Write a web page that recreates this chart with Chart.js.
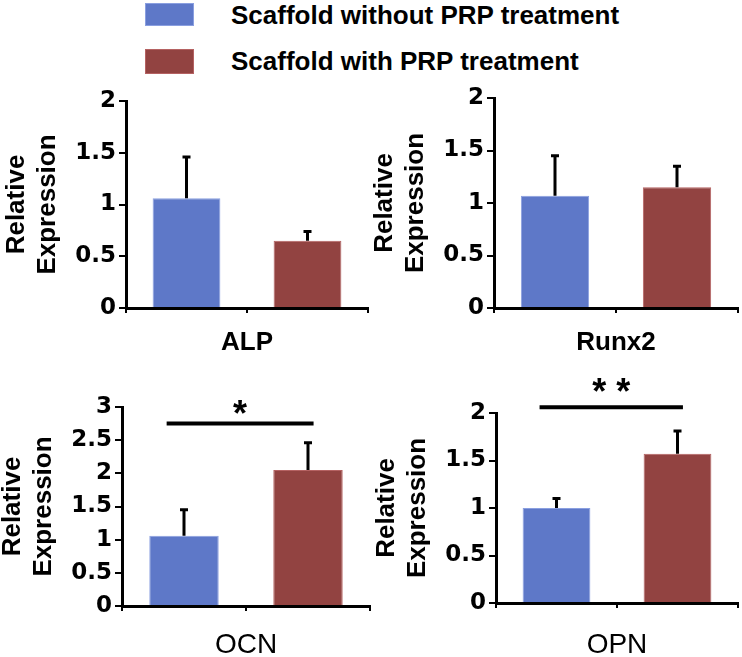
<!DOCTYPE html>
<html>
<head>
<meta charset="utf-8">
<script src="https://cdn.jsdelivr.net/npm/chart.js@4.4.1/dist/chart.umd.min.js"></script>
<style>
  body { margin: 0; width: 742px; height: 657px; overflow: hidden; background: #fff; position: relative;
         font-family: "Liberation Sans", Arial, sans-serif; }
  canvas { position: absolute; }
  .leg-box { position: absolute; left: 145px; width: 49px; }
  .leg-text { position: absolute; left: 231px; font-size: 26px; line-height: 26px; font-weight: bold; white-space: nowrap; color: #000; }
</style>
</head>
<body>
<div id="legend"></div>
<script>
// data
const genes = ["ALP", "Runx2", "OCN", "OPN"];
const seriesNames = ["Scaffold without PRP treatment", "Scaffold with PRP treatment"];
const seriesColors = ["#5E78C8", "#924341"];
const seriesBorders = ["#8A9FE0", "#B56262"];
const withoutPRP = [1.06, 1.07, 1.06, 1.00];
const withoutPRPErr = [0.40, 0.38, 0.39, 0.10];
const withPRP = [0.65, 1.15, 2.05, 1.57];
const withPRPErr = [0.09, 0.20, 0.41, 0.24];
const yMax = [2, 2, 3, 2];
const sigLabel = ["", "", "*", "* *"];
const sigLineY = [null, null, 2.75, 2.06];
const sigStarY = [null, null, 3.03, 2.31];

// where each plot area sits on the page
const panelBoxes = [
  { left: 126, top: 101, right: 368, bottom: 308, titleGap: 34, titleSize: 26, bold: true },
  { left: 494, top: 98, right: 738, bottom: 308, titleGap: 34, titleSize: 26, bold: true },
  { left: 122, top: 407, right: 370, bottom: 606, titleGap: 39, titleSize: 28, bold: false },
  { left: 496, top: 413, right: 738, bottom: 603, titleGap: 42, titleSize: 28, bold: false }
];

const FONT = '"Liberation Sans", Arial, sans-serif';
const TICK_FONT = '"DejaVu Sans", "Liberation Sans", sans-serif';
const Y_W = 126;
const PAD_TOP = 42;
const PAD_RIGHT = 4;
const SIG_FROM = -0.14;
const SIG_TO = 1.045;

Chart.defaults.font.family = FONT;
Chart.defaults.color = "#000";

function buildLegend() {
  const legend = document.getElementById("legend");
  const tops = [3, 49];
  const heights = [23, 25];
  seriesNames.forEach((name, i) => {
    const box = document.createElement("div");
    box.className = "leg-box";
    box.style.top = tops[i] + "px";
    box.style.height = heights[i] + "px";
    box.style.background = seriesColors[i];
    box.style.boxShadow = "inset 0 0 0 1px " + seriesBorders[i];
    legend.appendChild(box);

    const txt = document.createElement("div");
    txt.className = "leg-text";
    txt.style.top = (tops[i] - 1) + "px";
    txt.textContent = name;
    legend.appendChild(txt);
  });
}

const errorBars = {
  id: "errorBars",
  afterDatasetsDraw(chart, args, opts) {
    const { ctx } = chart;
    const x = chart.scales.x;
    const y = chart.scales.y;
    const meta = chart.getDatasetMeta(0);
    ctx.save();
    ctx.strokeStyle = "#000";
    ctx.lineWidth = 3;
    meta.data.forEach((bar, i) => {
      const top = y.getPixelForValue(opts.values[i] + opts.errors[i]);
      ctx.beginPath();
      ctx.moveTo(bar.x, bar.y);
      ctx.lineTo(bar.x, top);
      ctx.moveTo(bar.x - 4, top);
      ctx.lineTo(bar.x + 4, top);
      ctx.stroke();
    });

    if (opts.sig) {
      const ly = y.getPixelForValue(opts.lineY);
      const x1 = x.getPixelForValue(SIG_FROM);
      const x2 = x.getPixelForValue(SIG_TO);
      ctx.lineWidth = 4;
      ctx.beginPath();
      ctx.moveTo(x1, ly);
      ctx.lineTo(x2, ly);
      ctx.stroke();

      ctx.fillStyle = "#000";
      ctx.font = "bold 36px " + FONT;
      ctx.textAlign = "center";
      ctx.textBaseline = "alphabetic";
      ctx.fillText(opts.sig, (x1 + x2) / 2, y.getPixelForValue(opts.starY) + 0.58 * 36);
    }
    ctx.restore();
  }
};

function drawPanel(i) {
  const box = panelBoxes[i];
  const left = box.left - Y_W;
  const top = box.top - PAD_TOP;
  const xh = Math.round(box.titleGap + box.titleSize * 1.2 / 2);
  const width = box.right - left + PAD_RIGHT;
  const height = box.bottom - top + xh;

  const canvas = document.createElement("canvas");
  canvas.width = width;
  canvas.height = height;
  canvas.style.left = left + "px";
  canvas.style.top = top + "px";
  canvas.style.width = width + "px";
  canvas.style.height = height + "px";
  document.body.appendChild(canvas);

  new Chart(canvas, {
    type: "bar",
    data: {
      labels: seriesNames,
      datasets: [
        {
          data: [withoutPRP[i], withPRP[i]],
          backgroundColor: seriesColors,
          borderColor: seriesBorders,
          borderWidth: 1,
          barPercentage: 0.56,
          categoryPercentage: 1
        }
      ]
    },
    options: {
      responsive: false,
      animation: false,
      devicePixelRatio: 1,
      layout: { padding: { top: PAD_TOP, right: PAD_RIGHT, left: 0, bottom: 0 } },
      plugins: {
        legend: { display: false },
        tooltip: { enabled: false },
        errorBars: {
          values: [withoutPRP[i], withPRP[i]],
          errors: [withoutPRPErr[i], withPRPErr[i]],
          sig: sigLabel[i],
          lineY: sigLineY[i],
          starY: sigStarY[i]
        }
      },
      scales: {
        x: {
          offset: true,
          grid: { offset: true, drawOnChartArea: false, drawTicks: true, tickLength: 5, color: "#000", lineWidth: 2 },
          border: { display: true, color: "#000", width: 3 },
          ticks: { display: false },
          title: {
            display: true,
            text: genes[i],
            font: { size: box.titleSize, weight: box.bold ? "bold" : "normal", lineHeight: 1.2 },
            padding: { top: 0, bottom: 0 },
            color: "#000"
          },
          afterFit: (s) => { s.height = xh; }
        },
        y: {
          min: 0,
          max: yMax[i],
          ticks: {
            stepSize: 0.5,
            font: { family: TICK_FONT, size: 23, weight: "bold" },
            color: "#000",
            padding: 3,
            callback: (v) => String(v)
          },
          grid: { drawOnChartArea: false, drawTicks: true, tickLength: 7, color: "#000", lineWidth: 2 },
          border: { display: true, color: "#000", width: 3 },
          title: {
            display: true,
            text: ["Relative", "Expression"],
            font: { size: 26, weight: "bold", lineHeight: 1.2 },
            padding: { top: 1, bottom: 0 },
            color: "#000"
          },
          afterFit: (s) => { s.width = Y_W; }
        }
      }
    },
    plugins: [errorBars]
  });
}

buildLegend();
genes.forEach((g, i) => drawPanel(i));
</script>
</body>
</html>
